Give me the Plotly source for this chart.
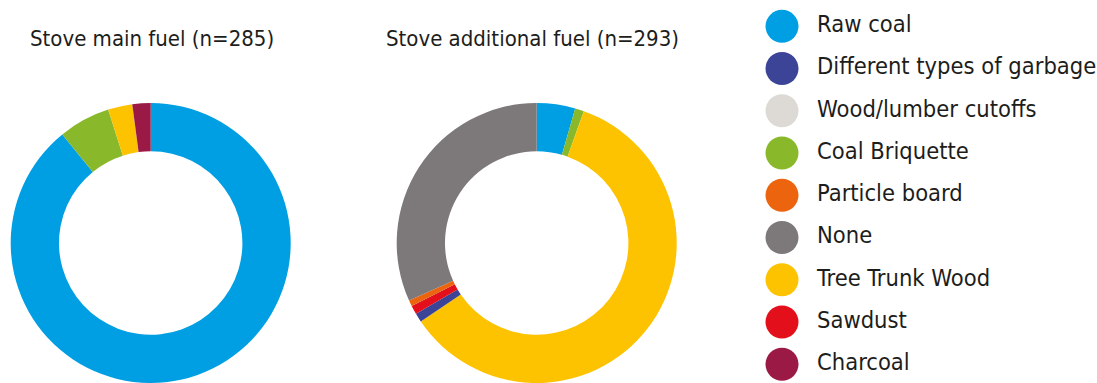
import plotly.graph_objects as go

W, H = 1097, 383
FONT = "Liberation Sans Narrow, DejaVu Sans Condensed, Roboto, sans-serif"
TEXT_COLOR = "#1d1d1b"

# Fuel categories and their colours (legend order)
categories = [
    "Raw coal",
    "Different types of garbage",
    "Wood/lumber cutoffs",
    "Coal Briquette",
    "Particle board",
    "None",
    "Tree Trunk Wood",
    "Sawdust",
    "Charcoal",
]
colors = {
    "Raw coal": "#009fe3",
    "Different types of garbage": "#3b4497",
    "Wood/lumber cutoffs": "#ddd9d4",
    "Coal Briquette": "#89b92b",
    "Particle board": "#ec650e",
    "None": "#7d797a",
    "Tree Trunk Wood": "#fdc300",
    "Sawdust": "#e30f1b",
    "Charcoal": "#9b1a45",
}

# Stove main fuel (n=285): counts per category, clockwise from 12 o'clock
main_labels = ["Raw coal", "Coal Briquette", "Tree Trunk Wood", "Charcoal"]
main_counts = [254, 17, 8, 6]

# Stove additional fuel (n=293): counts per category, clockwise from 12 o'clock
add_labels = ["Raw coal", "Coal Briquette", "Tree Trunk Wood",
              "Different types of garbage", "Sawdust", "Particle board", "None"]
add_counts = [13, 3, 176, 3, 3, 2, 93]

titles = ["Stove main fuel (n=285)", "Stove additional fuel (n=293)"]

fig = go.Figure()

# donut geometry in pixels
RADIUS = 140
TOP = 103
centers_x = [150.7, 536.7]
title_x = [152, 532.5]


def domain_for(cx):
    return dict(
        x=[(cx - RADIUS) / W, (cx + RADIUS) / W],
        y=[0, (H - TOP) / H],
    )


for cx, labels, counts in [(centers_x[0], main_labels, main_counts),
                           (centers_x[1], add_labels, add_counts)]:
    fig.add_trace(go.Pie(
        labels=labels,
        values=counts,
        marker=dict(colors=[colors[l] for l in labels], line=dict(width=0)),
        hole=0.655,
        sort=False,
        direction="clockwise",
        rotation=0,
        textinfo="none",
        hoverinfo="label+value+percent",
        showlegend=False,
        domain=domain_for(cx),
    ))

# chart titles above each donut
for tx, t in zip(title_x, titles):
    fig.add_annotation(
        text=t, x=tx / W, y=1 - 38 / H, xref="paper", yref="paper",
        xanchor="center", yanchor="middle", showarrow=False,
        font=dict(family=FONT, size=22, color=TEXT_COLOR),
    )

# legend: large circles with category names, laid out in pixel coordinates
LEG_X = 782
LEG_Y0 = 26.3
LEG_STEP = 42.24
leg_y = [LEG_Y0 + i * LEG_STEP for i in range(len(categories))]

fig.add_trace(go.Scatter(
    x=[LEG_X] * len(categories), y=leg_y, mode="markers",
    marker=dict(size=33, color=[colors[c] for c in categories], line=dict(width=0)),
    hoverinfo="skip", showlegend=False,
))
fig.add_trace(go.Scatter(
    x=[LEG_X + 35] * len(categories), y=leg_y, mode="text",
    text=categories, textposition="middle right",
    textfont=dict(family=FONT, size=23.5, color=TEXT_COLOR),
    hoverinfo="skip", showlegend=False,
))

fig.update_xaxes(range=[0, W], visible=False, fixedrange=True)
fig.update_yaxes(range=[H, 0], visible=False, fixedrange=True)

fig.update_layout(
    width=W, height=H,
    margin=dict(l=0, r=0, t=0, b=0),
    paper_bgcolor="white",
    plot_bgcolor="rgba(0,0,0,0)",
    showlegend=False,
)

fig.write_html("out.html")
